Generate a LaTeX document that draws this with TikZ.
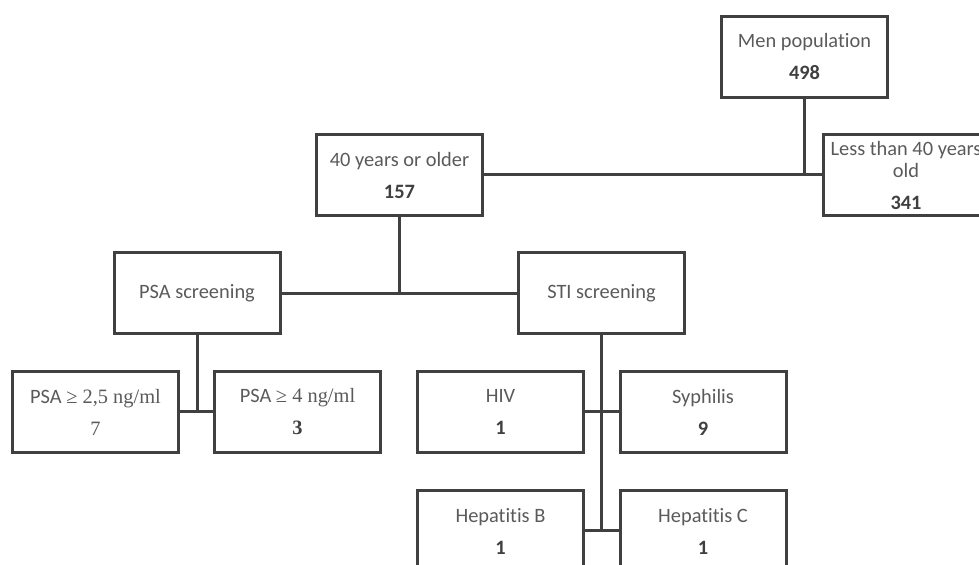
\documentclass[tikz,border=0pt]{standalone}
\usepackage{fontspec}
\setmainfont{Carlito}[Ligatures=NoCommon]
\newfontfamily\serifnum{Liberation Serif}
\usepackage{tikz}
\definecolor{boxline}{HTML}{404040}
\definecolor{labeltext}{HTML}{5A5A5A}
\newcommand{\boxnum}[1]{{\color{boxline}\bfseries #1}}

\begin{document}
\begin{tikzpicture}[x=0.5pt,y=-0.5pt,line width=1.5pt,boxline,every node/.style={draw=boxline, rectangle, minimum width=83pt, minimum height=40.5pt, align=center, text=labeltext, inner sep=1pt, font=\fontsize{10.2}{16}\selectfont}]
\useasboundingbox (0,0) rectangle (979,565);
\node (Men) at (804.5,57) {Men population\\\boxnum{498}};
\node (Old) at (399.5,175) {40 years or older\\\boxnum{157}};
\node[font=\fontsize{10.2}{11}\selectfont] (Young) at (906,175) {Less than 40 years\\old\\[5pt]\boxnum{341}};
\node (PSA) at (197,293.5) {PSA screening};
\node (STI) at (601.5,293.5) {STI screening};
\node (PSAa) at (95.5,412) {PSA {\serifnum ≥ 2,5 ng/ml}\\{\serifnum 7}};
\node (PSAb) at (297.5,412) {PSA {\serifnum ≥ 4 ng/ml}\\{\serifnum\boxnum{3}}};
\node (HIV) at (500.5,412) {HIV\\\boxnum{1}};
\node (Syph) at (703,412) {Syphilis\\\boxnum{9}};
\node (HepB) at (500.5,531) {Hepatitis B\\\boxnum{1}};
\node (HepC) at (703,531) {Hepatitis C\\\boxnum{1}};

\draw (Old) -- (Young) (Men) -- (Men |- Young);
\draw (PSA) -- (STI) (Old) -- (Old |- PSA);
\draw (PSAa) -- (PSAb) (PSA) -- (PSA |- PSAa);
\draw (HIV) -- (Syph) (HepB) -- (HepC) (STI) -- (STI |- HepB);
\end{tikzpicture}
\end{document}
